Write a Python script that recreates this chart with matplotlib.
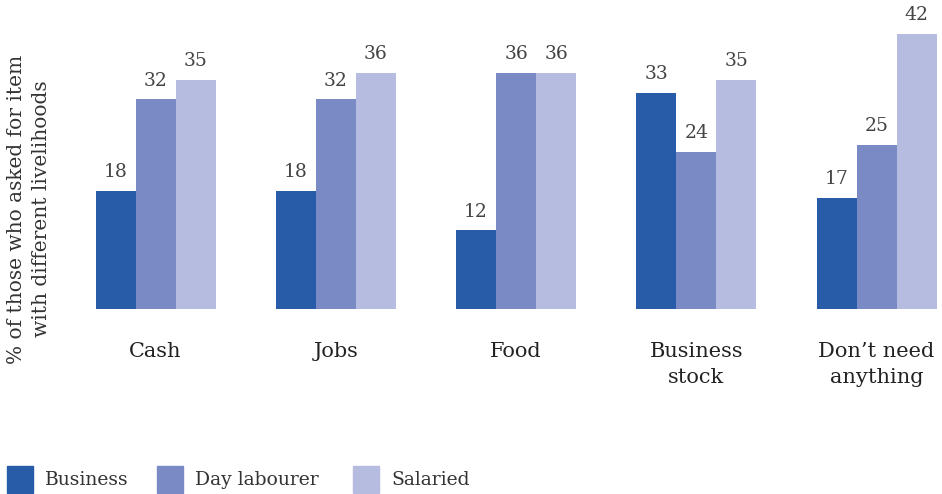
import numpy as np
import matplotlib.pyplot as plt

plt.rcParams['font.family'] = ['DejaVu Serif']

# data
categories = ['Cash', 'Jobs', 'Food', 'Business\nstock', 'Don\u2019t need\nanything']
series = ['Business', 'Day labourer', 'Salaried']
business = [18, 18, 12, 33, 17]
day_labourer = [32, 32, 36, 24, 25]
salaried = [35, 36, 36, 35, 42]
colors = ['#285ca9', '#7a8ac4', '#b5bcdf']

W, H = 942, 494
fig = plt.figure(figsize=(W / 100, H / 100), dpi=100)

# axes placed so that the baseline sits at y=309px
base_px, top_px = 309, 20
ax = fig.add_axes([0, (H - base_px) / H, 1, (base_px - top_px) / H])

px_per_group = 180.25
c0 = 155.5
ax.set_xlim(-c0 / px_per_group, (W - c0) / px_per_group)
ax.set_ylim(0, (base_px - top_px) / 6.55)

x = np.arange(len(categories))
bw = 40 / px_per_group
for i, (vals, name) in enumerate(zip([business, day_labourer, salaried], series)):
    bars = ax.bar(x + (i - 1) * bw, vals, bw, color=colors[i], label=name)
    for b, v in zip(bars, vals):
        ax.text(b.get_x() + b.get_width() / 2, v + 1.5, str(v),
                ha='center', va='bottom', fontsize=13.5, color='#444444')

for s in ax.spines.values():
    s.set_visible(False)
ax.set_yticks([])
ax.set_xticks(x)
ax.set_xticklabels(categories, fontsize=15, color='#222222', linespacing=1.45)
ax.tick_params(axis='x', length=0, pad=24)

fig.text(29 / W, 1 - 209 / H,
         '% of those who asked for item\nwith different livelihoods',
         rotation=90, ha='center', va='center', fontsize=14.5,
         color='#333333', linespacing=1.4)

# legend
leg_x = [7, 157, 353]
for xi, name, col in zip(leg_x, series, colors):
    fig.patches.append(plt.Rectangle((xi / W, 1 - 493 / H), 26 / W, 27 / H,
                                     transform=fig.transFigure, color=col))
    fig.text((xi + 38) / W, 1 - 480 / H, name, ha='left', va='center',
             fontsize=13.5, color='#333333')

plt.savefig('out.png', dpi=100)
